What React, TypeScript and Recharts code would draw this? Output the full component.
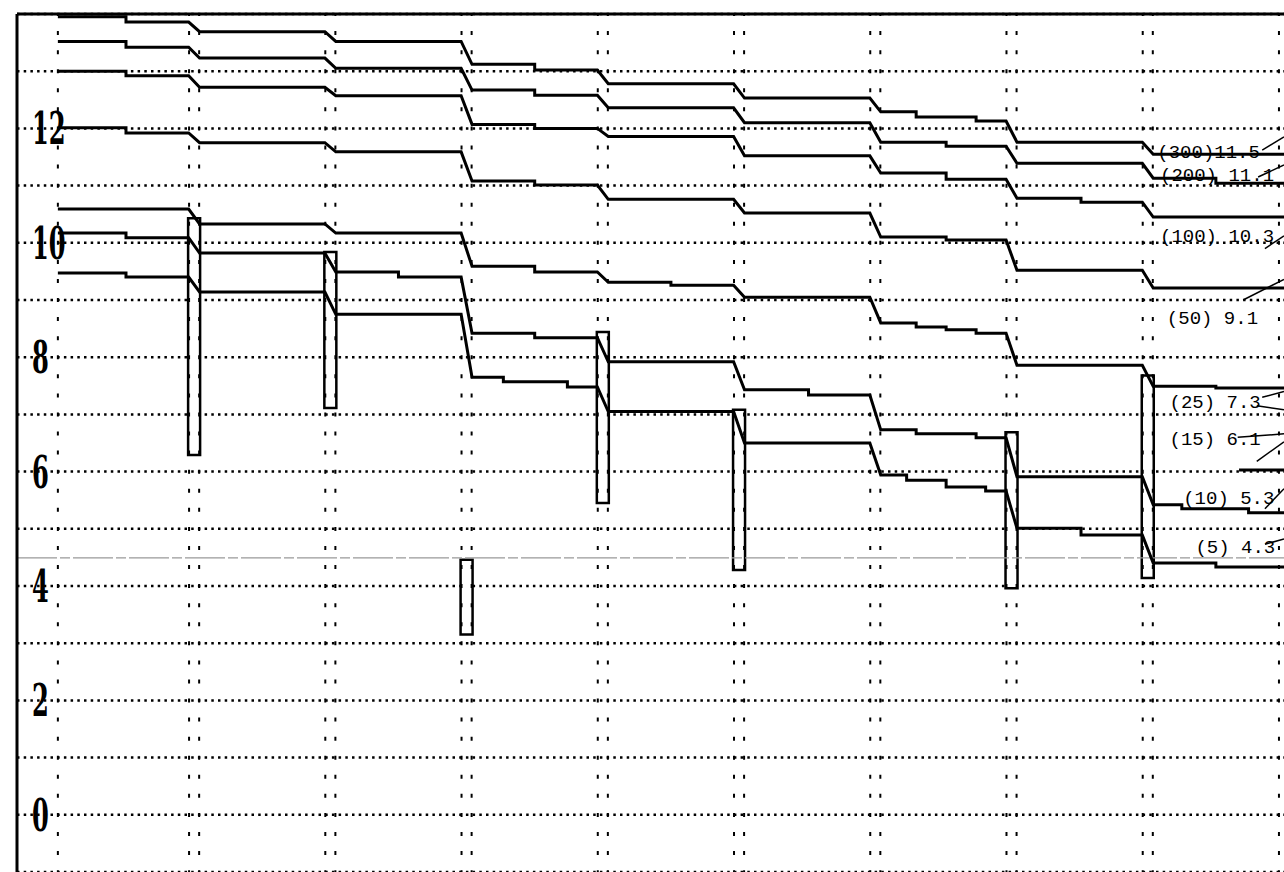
import { ComposedChart, Line, XAxis, YAxis, CartesianGrid, ReferenceLine, ReferenceDot, ReferenceArea } from "recharts";

// each curve is a list of flat steps: [from x, to x, level]
const seg300 = [
  [0, 0.5, 13.95], [0.5, 0.96, 13.86], [1.04, 1.96, 13.69], [2.04, 2.96, 13.52],
  [3.04, 3.5, 13.12], [3.5, 3.96, 13.02], [4.04, 4.96, 12.78], [5.04, 5.96, 12.53],
  [6.04, 6.3, 12.29], [6.3, 6.74, 12.2], [6.74, 6.96, 12.13], [7.04, 7.96, 11.76], [8.04, 9, 11.55],
];
const seg200 = [
  [0, 0.5, 13.52], [0.5, 0.96, 13.42], [1.04, 1.96, 13.23], [2.04, 2.96, 13.05],
  [3.04, 3.5, 12.67], [3.5, 3.96, 12.58], [4.04, 4.96, 12.36], [5.04, 5.96, 12.1],
  [6.04, 6.52, 11.76], [6.52, 6.96, 11.69], [7.04, 7.96, 11.39], [8.04, 8.5, 11.13], [8.5, 9, 11.04],
];
const seg100 = [
  [0, 0.5, 13.0], [0.5, 0.96, 12.92], [1.04, 1.96, 12.72], [2.04, 2.96, 12.57],
  [3.04, 3.5, 12.07], [3.5, 3.96, 12.0], [4.04, 4.96, 11.86], [5.04, 5.96, 11.52],
  [6.04, 6.52, 11.22], [6.52, 6.96, 11.11], [7.04, 7.51, 10.78], [7.51, 7.96, 10.71], [8.04, 9, 10.45],
];
const seg50 = [
  [0, 0.5, 12.01], [0.5, 0.96, 11.92], [1.04, 1.96, 11.75], [2.04, 2.96, 11.59],
  [3.04, 3.5, 11.08], [3.5, 3.96, 11.01], [4.04, 4.96, 10.76], [5.04, 5.96, 10.52],
  [6.04, 6.52, 10.1], [6.52, 6.96, 10.05], [7.04, 7.96, 9.52], [8.04, 9, 9.21],
];
const seg25 = [
  [0, 0.96, 10.59], [1.04, 1.96, 10.33], [2.04, 2.96, 10.17], [3.04, 3.5, 9.59],
  [3.5, 3.96, 9.49], [4.04, 4.5, 9.31], [4.5, 4.96, 9.26], [5.04, 5.96, 9.05],
  [6.04, 6.3, 8.6], [6.3, 6.52, 8.53], [6.52, 6.74, 8.48], [6.74, 6.96, 8.42],
  [7.04, 7.96, 7.86], [8.04, 8.5, 7.49], [8.5, 9, 7.46],
];
const seg15 = [[8.67, 9, 6.03]];
const seg10 = [
  [0, 0.5, 10.17], [0.5, 0.96, 10.09], [1.04, 1.96, 9.82], [2.04, 2.5, 9.49],
  [2.5, 2.96, 9.4], [3.04, 3.5, 8.42], [3.5, 3.96, 8.34], [4.04, 4.96, 7.92],
  [5.04, 5.51, 7.43], [5.51, 5.96, 7.34], [6.04, 6.3, 6.73], [6.3, 6.74, 6.66],
  [6.74, 6.96, 6.59], [7.04, 7.96, 5.91], [8.04, 8.25, 5.42], [8.25, 8.74, 5.35], [8.74, 9, 5.28],
];
const seg5 = [
  [0, 0.5, 9.47], [0.5, 0.96, 9.4], [1.04, 1.96, 9.14], [2.04, 2.96, 8.75],
  [3.04, 3.27, 7.65], [3.27, 3.74, 7.57], [3.74, 3.96, 7.48], [4.04, 4.96, 7.05],
  [5.04, 5.96, 6.5], [6.04, 6.23, 5.94], [6.23, 6.52, 5.85], [6.52, 6.81, 5.73],
  [6.81, 6.96, 5.66], [7.04, 7.51, 5.01], [7.51, 7.96, 4.89], [8.04, 8.5, 4.4], [8.5, 9, 4.33],
];

// tall open boxes at the column changes
const boxX = [1, 2, 3, 4, 5, 7, 8];
const boxLow = [6.29, 7.11, 3.15, 5.45, 4.28, 3.96, 4.14];
const boxHigh = [10.43, 9.84, 4.46, 8.44, 7.08, 6.69, 7.68];

const xTicks = [0, 1, 2, 3, 4, 5, 6, 7, 8, 9];
const yTicks = [0, 1, 2, 3, 4, 5, 6, 7, 8, 9, 10, 11, 12, 13];

const endLabels = ["(300)11.5", "(200) 11.1", "(100) 10.3", "(50) 9.1", "(25) 7.3", "(15) 6.1", "(10) 5.3", "(5) 4.3"];
const labelSpots = [[8.07, 11.6], [8.09, 11.2], [8.09, 10.14], [8.14, 8.7], [8.16, 7.23], [8.16, 6.59], [8.26, 5.56], [8.35, 4.7]];

// pen strokes pointing from the labels to their curves
const arrowStrokes = [
  [[8.84, 11.62], [9.0, 11.85]],
  [[8.81, 11.15], [9.0, 11.36]],
  [[8.86, 9.9], [9.0, 10.12]],
  [[8.7, 9.0], [9.0, 9.36]],
  [[8.84, 7.3], [9.0, 7.4]],
  [[8.8, 7.15], [9.0, 7.08]],
  [[8.66, 6.6], [9.0, 6.66]],
  [[8.8, 6.18], [9.0, 6.52]],
  [[8.86, 5.35], [9.0, 5.7]],
  [[8.86, 4.73], [9.0, 4.82]],
];

const toPoints = (segs: number[][]) => segs.flatMap(([a, b, v]) => [{ x: a, v }, { x: b, v }]);
const curves = [seg300, seg200, seg100, seg50, seg25, seg15, seg10, seg5].map(toPoints);

// single dotted guide at 0, paired guides either side of every other column
const guideXs = [0, ...xTicks.slice(1).flatMap((k) => [k - 0.037, k + 0.037])];

const YTick = (props: any) => {
  const { x, y, payload } = props;
  if (payload.value % 2 !== 0) return <g />;
  return (
    <g transform={`translate(${x + 7}, ${y}) scale(0.55, 1)`}>
      <text x={0} y={16} fontFamily="DejaVu Serif" fontWeight="bold" fontSize={44} fill="#000">
        {payload.value}
      </text>
    </g>
  );
};

export default function App() {
  return (
    <div style={{ position: "absolute", left: 0, top: 0, background: "#fff" }}>
      <ComposedChart width={1284} height={872} margin={{ top: 13, right: 0, bottom: 0, left: 17 }}>
        <CartesianGrid vertical={false} stroke="#000" strokeWidth={2.5} strokeDasharray="2.5 4.2" />
        <XAxis
          dataKey="x"
          type="number"
          orientation="top"
          domain={[-0.3, 9]}
          ticks={xTicks}
          allowDataOverflow
          height={1}
          tick={false}
          tickLine={false}
          axisLine={{ stroke: "#000", strokeWidth: 3 }}
        />
        <YAxis
          type="number"
          domain={[-1, 14]}
          ticks={yTicks}
          allowDataOverflow
          width={1}
          mirror
          tickLine={false}
          tickMargin={2}
          tick={<YTick />}
          axisLine={{ stroke: "#000", strokeWidth: 3 }}
        />
        {guideXs.map((gx) => (
          <ReferenceLine key={gx} x={gx} stroke="#000" strokeWidth={2} strokeDasharray="4 15.07" strokeDashoffset={2} />
        ))}
        <ReferenceLine y={4.49} stroke="#999" strokeWidth={1.2} strokeDasharray="40 3 10 3" />
        {boxX.map((bx, i) => (
          <ReferenceArea
            key={bx}
            x1={bx - 0.044}
            x2={bx + 0.044}
            y1={boxLow[i]}
            y2={boxHigh[i]}
            fill="#fff"
            fillOpacity={1}
            stroke="#000"
            strokeWidth={2.5}
          />
        ))}
        {curves.map((pts, i) => (
          <Line
            key={endLabels[i]}
            data={pts}
            dataKey="v"
            type="linear"
            dot={false}
            activeDot={false}
            stroke="#000"
            strokeWidth={3}
            isAnimationActive={false}
          />
        ))}
        {arrowStrokes.map((s, i) => (
          <ReferenceLine
            key={"a" + i}
            segment={[{ x: s[0][0], y: s[0][1] }, { x: s[1][0], y: s[1][1] }]}
            stroke="#000"
            strokeWidth={1.5}
          />
        ))}
        {endLabels.map((t, i) => (
          <ReferenceDot
            key={t}
            x={labelSpots[i][0]}
            y={labelSpots[i][1]}
            r={0}
            fill="none"
            stroke="none"
            label={{ value: t, position: "right", offset: 0, fill: "#000", fontSize: 19, fontFamily: "Liberation Mono" }}
          />
        ))}
      </ComposedChart>
    </div>
  );
}
